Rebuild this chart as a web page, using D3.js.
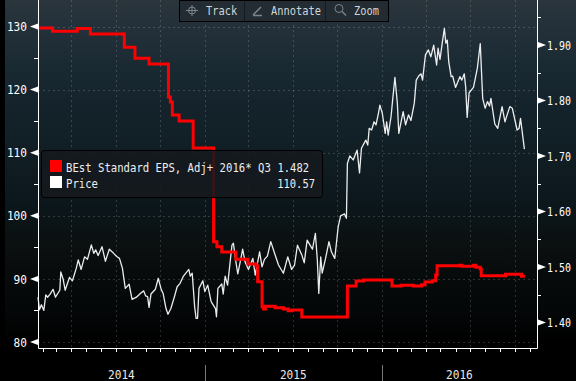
<!DOCTYPE html>
<html><head><meta charset="utf-8">
<script src="https://cdn.jsdelivr.net/npm/d3@7"></script>
<style>html,body{margin:0;padding:0;background:#000;overflow:hidden}
text{font-family:"DejaVu Sans Mono","Liberation Mono",monospace;font-size:12.5px;white-space:pre}</style>
</head><body><svg id="c" width="576" height="381"></svg>
<script>
// Days since 2014-01-01 and closing price
const priceDays=[21,24,28,33,37,41,46,52,57,66,68,73,77,86,92,100,104,110,117,123,131,136,140,145,153,160,168,177,184,189,195,201,209,215,224,232,239,243,247,250,254,263,269,275,279,285,289,295,302,308,314,321,332,335,339,344,347,350,353,361,365,371,378,387,389,392,400,403,407,412,418,421,424,428,433,438,443,448,455,464,469,478,483,488,494,501,510,517,527,536,544,550,556,565,570,576,582,587,593,597,600,604,607,614,621,626,633,640,645,653,657,658,659,664,671,679,684,688,697,701,704,709,714,718,723,726,731,737,740,743,749,752,757,762,765,774,779,785,790,797,801,806,811,814,820,826,831,837,843,846,850,855,859,862,865,868,873,876,882,891,895,900,903,906,910,919,927,933,938,943,948,952,955,963,969,978,984,989,994,999,1009,1013,1016,1024];
const priceValues=[87.1,85.1,85.9,85.0,87.45,87.1,87.6,88.35,87.1,88.2,91.1,89.9,88.2,90.25,89.7,91.7,93.0,91.5,93.5,93.1,95.4,94.05,94.6,93.7,95.1,92.8,94.7,94.05,93.5,93.25,91.7,88.5,89.15,86.75,87.1,87.7,88.1,87.3,87.2,85.5,87.6,88.35,90.1,88.35,87.7,85.3,84.4,85.3,87.1,88.75,89.3,90.45,91.5,90.45,90.9,85.6,83.75,83.75,88.5,89.7,88,89,86.4,85.3,84.0,88.5,89.2,87.6,90.45,89,93.25,95.35,95.65,93.25,90.8,92.7,94.7,92.7,91.5,93.25,90.6,94.3,91.9,93.1,93.6,95.9,93.8,92.2,90.9,93.5,91.5,92.2,95.35,93.8,92.55,96.15,95.35,94.7,97.2,93,87.7,93.5,90.9,93.25,95.9,94.3,93.25,98.25,100,100.3,99.6,104.1,108.3,109.5,108.85,110.4,106.8,110.7,112,111.2,113.85,113.6,114.9,114.4,116.25,117.55,116.25,113.05,114.9,112.8,115.7,118.1,121.95,117.85,113.05,116.5,114.4,116,115.1,117.85,121.5,122.15,122.5,121.5,125.5,126.3,125.2,127.05,123.9,126.55,124.8,127.6,129.7,127.35,127.85,124.4,122.05,122.15,120.35,122.05,121.5,122.5,120.35,115.6,119.5,120.35,123.4,127.3,118.6,117.05,118.1,117.4,118.6,114.55,113.85,117.3,114.9,116.15,117.3,117.05,113.6,113.85,115.45,110.57];
// EPS estimate: days since 2014-01-01 at which each level starts
const epsDays=[22,51,102,129,199,221,250,290,294,298,312,341,383,390,400,429,454,471,474,483,486,490,510,527,537,545,565,659,677,692,751,770,795,812,819,834,841,844,891,895,919,924,933,935,985,1018,1025];
const epsValues=[1.9306,1.9246,1.9296,1.9197,1.8958,1.8760,1.8657,1.8062,1.7972,1.7738,1.7630,1.7143,1.5455,1.5365,1.527,1.5138,1.5053,1.5017,1.4734,1.4284,1.4242,1.4291,1.4266,1.4242,1.4212,1.4224,1.41,1.4657,1.4747,1.4765,1.4657,1.467,1.4657,1.468,1.4729,1.4752,1.4855,1.5023,1.503,1.5012,1.503,1.4994,1.4963,1.4842,1.4868,1.4832,1.4832];
const leftTicks=[130,120,110,100,90,80];
const leftMinor=[125,115,105,95,85];
const rightTicks=[1.9,1.8,1.7,1.6,1.5,1.4];
const rightMinor=[1.95,1.85,1.75,1.65,1.55,1.45];
const years=["2014","2015","2016"];
const legendRows=[["BEst Standard EPS, Adj+ 2016* Q3","1.482","#ff0000"],["Price","110.57","#ffffff"]];
const tools=["Track","Annotate","Zoom"];

const W=576,H=381,L=38,R=537,B=348;
const base=new Date(2014,0,1);
const day=d=>d3.timeDay.offset(base,d);
const x=d3.scaleTime().domain([day(21.6),day(1050.6)]).range([L,R]);
const yL=d3.scaleLinear().domain([80,130]).range([342,26.5]);
const yR=d3.scaleLinear().domain([1.4,1.9]).range([322.5,45]);
const squeeze=(sel,w)=>sel.attr("lengthAdjust","spacingAndGlyphs").attr("textLength",d=>String(typeof d==="object"?d:d).length*w);
const svg=d3.select("#c");
const defs=svg.append("defs");
const g=defs.append("linearGradient").attr("id","bg").attr("x1",0).attr("x2",0).attr("y1",0).attr("y2",1);
[[0,"#2a353c"],[0.06,"#25313a"],[0.17,"#1a2a33"],[0.28,"#14232b"],[0.42,"#101d23"],[0.55,"#0b161b"],[0.64,"#0b1010"],[0.72,"#080b0b"],[0.8,"#050809"],[0.9,"#000"],[1,"#000"]]
 .forEach(s=>g.append("stop").attr("offset",s[0]).attr("stop-color",s[1]));
svg.append("rect").attr("width",W).attr("height",H).attr("fill","#000");
svg.append("rect").attr("x",5).attr("width",W-5).attr("height",H).attr("fill","url(#bg)");

// gridlines
const grid=svg.append("g").attr("stroke","#fff").attr("stroke-opacity",.16).attr("stroke-dasharray","2,3");
grid.selectAll(".h").data(leftTicks).join("line").attr("x1",L).attr("x2",R).attr("y1",d=>Math.round(yL(d))+.5).attr("y2",d=>Math.round(yL(d))+.5);
grid.selectAll(".v").data(d3.timeMonth.every(3).range(day(21.6),day(1050.6))).join("line")
 .attr("x1",d=>Math.round(x(d))+.5).attr("x2",d=>Math.round(x(d))+.5).attr("y1",0).attr("y2",B);

// series
const priceLine=d3.line().x((d,i)=>x(day(priceDays[i]))).y(d=>yL(d));
svg.append("path").attr("d",priceLine(priceValues)).attr("fill","none").attr("stroke","#fff").attr("stroke-width",1.3).attr("stroke-linejoin","round").attr("stroke-opacity",.92);
const epsLine=d3.line().curve(d3.curveStepAfter).x((d,i)=>x(day(epsDays[i]))).y(d=>yR(d));
svg.append("path").attr("d",epsLine(epsValues)).attr("fill","none").attr("stroke","#ff0000").attr("stroke-width",3);

// frame
const white="#fff";
svg.append("path").attr("d",`M${L+.5},0V${B+.5}H${R+.5}V0`).attr("fill","none").attr("stroke",white).attr("stroke-width",1);
svg.append("g").selectAll("line").data(d3.timeMonth.range(day(21.6),day(1050.6))).join("line")
 .attr("x1",d=>Math.round(x(d))+.5).attr("x2",d=>Math.round(x(d))+.5).attr("y1",B).attr("y2",B+4).attr("stroke",white);

// left axis
svg.append("g").selectAll("line").data(leftMinor).join("line").attr("x1",L-4).attr("x2",L).attr("y1",d=>Math.round(yL(d))+.5).attr("y2",d=>Math.round(yL(d))+.5).attr("stroke",white);
const la=svg.append("g").selectAll("g").data(leftTicks).join("g").attr("transform",d=>`translate(0,${yL(d)})`);
la.append("path").attr("d",`M${L},-3L${L-8},0L${L},3Z`).attr("fill",white);
la.append("text").attr("x",27).attr("dy","0.37em").attr("text-anchor","end").attr("fill",white).text(d=>d).call(squeeze,6.7);
// right axis
svg.append("g").selectAll("line").data(rightMinor).join("line").attr("x1",R).attr("x2",R+4).attr("y1",d=>Math.round(yR(d))+.5).attr("y2",d=>Math.round(yR(d))+.5).attr("stroke",white);
const ra=svg.append("g").selectAll("g").data(rightTicks).join("g").attr("transform",d=>`translate(0,${yR(d)})`);
ra.append("path").attr("d",`M${R+1},-3L${R+9},0L${R+1},3Z`).attr("fill",white);
ra.append("text").attr("x",547).attr("dy","0.37em").attr("fill",white).text(d=>d3.format(".2f")(d)).attr("lengthAdjust","spacingAndGlyphs").attr("textLength",24);

// year band
const yearStart=y=>new Date(+y,0,1);
svg.append("g").selectAll("line").data(years.slice(1)).join("line")
 .attr("x1",d=>Math.round(x(yearStart(d)))+.5).attr("x2",d=>Math.round(x(yearStart(d)))+.5).attr("y1",365).attr("y2",H).attr("stroke","#777");
svg.append("g").selectAll("text").data(years).join("text")
 .attr("x",d=>{const a=Math.max(L,x(yearStart(d)));const b=Math.min(R,x(yearStart(+d+1)));return (a+b)/2;})
 .attr("y",379).attr("text-anchor","middle").attr("fill","#e8e8e8").text(d=>d).call(squeeze,6.7);

// legend
svg.append("rect").attr("x",41.5).attr("y",150.5).attr("width",281).attr("height",47).attr("rx",3)
 .attr("fill","#14191e").attr("fill-opacity",.88).attr("stroke","#000");
const lg=svg.append("g").selectAll("g").data(legendRows).join("g").attr("transform",(d,i)=>`translate(0,${i*16})`);
lg.append("rect").attr("x",50).attr("y",160).attr("width",12).attr("height",12).attr("fill",d=>d[2]);
lg.append("text").attr("x",66).attr("y",172).attr("fill","#eee").text(d=>d[0]).attr("lengthAdjust","spacingAndGlyphs").attr("textLength",d=>d[0].length*6.4);
lg.append("text").attr("x",(d,i)=>i?315:309).attr("y",172).attr("text-anchor","end").attr("fill","#eee").text(d=>d[1]).attr("lengthAdjust","spacingAndGlyphs").attr("textLength",d=>d[1].length*6.3);

// toolbar
const tb=svg.append("g");
tb.append("rect").attr("x",179.5).attr("y",.5).attr("width",209).attr("height",21).attr("fill","#232c32").attr("stroke","#000");
[244,325].forEach(v=>tb.append("line").attr("x1",v+.5).attr("x2",v+.5).attr("y1",1).attr("y2",21).attr("stroke","#141a1e"));
const toolX=[206,271,354];
tb.selectAll("text").data(tools).join("text").attr("x",(d,i)=>toolX[i]).attr("y",15).attr("fill","#cfd5d9").text(d=>d).call(squeeze,6.25);
const ic="#7b858b";
tb.append("circle").attr("cx",192).attr("cy",10.5).attr("r",3.5).attr("fill","none").attr("stroke",ic);
tb.append("path").attr("d","M186,10.5H198M192,5V16").attr("stroke",ic);
tb.append("path").attr("d","M253,15L261,7M253,15.5H262").attr("stroke",ic).attr("stroke-width",1.5).attr("fill","none");
tb.append("circle").attr("cx",339).attr("cy",8.5).attr("r",4).attr("fill","none").attr("stroke",ic);
tb.append("path").attr("d","M342,11.5L346,15.5").attr("stroke",ic).attr("stroke-width",1.5);
</script></body></html>
